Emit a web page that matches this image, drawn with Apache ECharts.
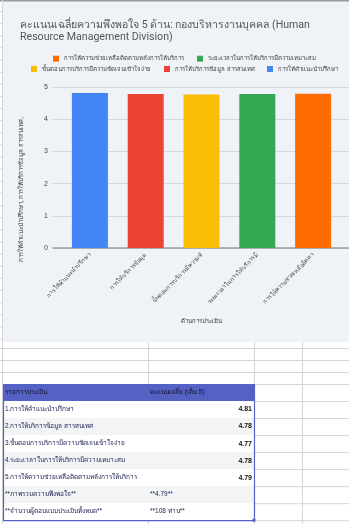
<!DOCTYPE html>
<html>
<head>
<meta charset="utf-8">
<script src="https://cdn.jsdelivr.net/npm/echarts@6/dist/echarts.min.js"></script>
<style>
  html, body { margin: 0; padding: 0; background: #ffffff; }
  #chart { width: 349px; height: 524px; }
</style>
</head>
<body>
<div id="chart"></div>
<script>
// ---- data ----
const categories = [
  'การให้คำแนะนำปรึกษา',
  'การให้บริการข้อมูล สารสนเทศ',
  'ขั้นตอนการบริการมีความชัดเจนเข้าใจง่าย',
  'ระยะเวลาในการให้บริการมีความเหมาะสม',
  'การให้ความช่วยเหลือติดตามหลังการให้บริการ'
];
const scores = [4.81, 4.78, 4.77, 4.78, 4.79];
const xTickLabels = [
  'การให้คำแนะนำปรึกษา',
  'การให้บริการข้อมูล',
  'ขั้นตอนการบริการมีความชั',
  'ระยะเวลาในการให้บริการมี',
  'การให้ความช่วยเหลือติดตา'
];
const yTicks = [0, 1, 2, 3, 4, 5];
const chartTitle = 'คะแนนเฉลี่ยความพึงพอใจ 5 ด้าน: กองบริหารงานบุคคล (Human\nResource Management Division)';
const xAxisTitle = 'ด้านการประเมิน';
const yAxisTitle = 'การให้คำแนะนำปรึกษา, การให้บริการข้อมูล สารสนเทศ,';
const tableHeader = ['รายการประเมิน', 'คะแนนเฉลี่ย (เต็ม 5)'];
const summaryRows = [
  ['**ภาพรวมความพึงพอใจ**', '**4.79**'],
  ['**จำนวนผู้ตอบแบบประเมินทั้งหมด**', '**108 ท่าน**']
];

// ---- styles ----
const palette = ['#4285f4', '#ea4335', '#fbbc04', '#34a853', '#ff6d01'];
const FONT = 'Arial, "Liberation Sans", Roboto, sans-serif';
const chartBg = '#eff2f7';
const sheetLine = '#d6d6d6';

const chart = echarts.init(document.getElementById('chart'), null, { renderer: 'canvas' });

// one series per category so every bar gets its own legend entry
const series = categories.map((name, i) => ({
  name: name,
  type: 'bar',
  stack: 'score',
  xAxisIndex: 0,
  yAxisIndex: 0,
  barWidth: 36,
  itemStyle: { color: palette[i] },
  data: categories.map((_, j) => (j === i ? scores[i] : '-'))
}));

// ---- spreadsheet beneath the chart ----
const g = [];
// chart panel background
g.push({ type: 'rect', z: -10, shape: { x: 3, y: 1, width: 346, height: 341 }, style: { fill: chartBg } });
// top border
g.push({ type: 'line', z: 5, shape: { x1: 0, y1: 0.5, x2: 349, y2: 0.5 }, style: { stroke: '#9a9a9a', lineWidth: 2 } });
// left column edge
g.push({ type: 'line', z: 5, shape: { x1: 2.5, y1: 0, x2: 2.5, y2: 524 }, style: { stroke: sheetLine, lineWidth: 1 } });
// row edges peeking in the gutter
for (let y = 11.5; y < 342; y += 12.13) {
  g.push({ type: 'line', z: 5, shape: { x1: 0, y1: y, x2: 3, y2: y }, style: { stroke: sheetLine, lineWidth: 1 } });
}
// empty rows between chart and table
[348.5, 360.5, 372.5].forEach(y => {
  g.push({ type: 'line', shape: { x1: 0, y1: y, x2: 349, y2: y }, style: { stroke: sheetLine, lineWidth: 1 } });
});
[148.5, 254.5, 302.5].forEach(x => {
  g.push({ type: 'line', shape: { x1: x, y1: 342, x2: x, y2: 384 }, style: { stroke: sheetLine, lineWidth: 1 } });
});
g.push({ type: 'line', shape: { x1: 302.5, y1: 384, x2: 302.5, y2: 524 }, style: { stroke: sheetLine, lineWidth: 1 } });
g.push({ type: 'line', shape: { x1: 148.5, y1: 520, x2: 148.5, y2: 524 }, style: { stroke: sheetLine, lineWidth: 1 } });
g.push({ type: 'line', shape: { x1: 254.5, y1: 520, x2: 254.5, y2: 524 }, style: { stroke: sheetLine, lineWidth: 1 } });

// table
const tX = 3, tW = 251, headY = 384, headH = 17, rowH = 17.03;
const bodyRows = categories.map((c, i) => [(i + 1) + '.' + c, scores[i].toFixed(2), 'num']);
summaryRows.forEach(r => bodyRows.push([r[0], r[1], 'col']));
const textCol = '#1c1f50';
const cellFont = '6.5px ' + FONT;

g.push({ type: 'rect', shape: { x: tX, y: headY, width: tW, height: headH }, style: { fill: '#5561c3' } });
g.push({ type: 'text', style: { x: 5, y: headY + headH / 2, text: tableHeader[0], fill: '#10122e', font: cellFont, verticalAlign: 'middle' } });
g.push({ type: 'text', style: { x: 150, y: headY + headH / 2, text: tableHeader[1], fill: '#10122e', font: cellFont, verticalAlign: 'middle' } });

bodyRows.forEach((r, i) => {
  const y = headY + headH + i * rowH;
  g.push({ type: 'rect', shape: { x: tX, y: y, width: tW, height: rowH }, style: { fill: i % 2 === 1 ? '#f3f4f6' : '#ffffff' } });
  g.push({ type: 'text', style: { x: 5, y: y + rowH / 2, text: r[0], fill: textCol, font: cellFont, verticalAlign: 'middle' } });
  if (r[2] === 'num') {
    g.push({ type: 'text', style: { x: 252, y: y + rowH / 2, text: r[1], fill: '#111', font: 'bold 7px ' + FONT, align: 'right', verticalAlign: 'middle' } });
  } else {
    g.push({ type: 'text', style: { x: 150, y: y + rowH / 2, text: r[1], fill: textCol, font: cellFont, verticalAlign: 'middle' } });
  }
  // row edge outside the table
  g.push({ type: 'line', shape: { x1: 254, y1: y + 0.5, x2: 349, y2: y + 0.5 }, style: { stroke: sheetLine, lineWidth: 1 } });
});
const tableBottom = headY + headH + bodyRows.length * rowH;
g.push({ type: 'line', shape: { x1: 254, y1: headY + 0.5, x2: 349, y2: headY + 0.5 }, style: { stroke: sheetLine, lineWidth: 1 } });
g.push({ type: 'line', shape: { x1: 254, y1: tableBottom + 0.5, x2: 349, y2: tableBottom + 0.5 }, style: { stroke: sheetLine, lineWidth: 1 } });
// table outline
g.push({ type: 'rect', z: 6, shape: { x: tX + 0.5, y: headY + 0.5, width: tW, height: tableBottom - headY }, style: { fill: 'none', stroke: '#5262c6', lineWidth: 1.2 } });
g.push({ type: 'rect', z: 7, shape: { x: tX + tW - 1.5, y: tableBottom - 1.5, width: 3, height: 3 }, style: { fill: '#5262c6' } });

// legend entries, placed one by one in two rows (last category first)
const legendSlots = [
  { idx: 4, left: 53, top: 55.7 },
  { idx: 3, left: 197, top: 55.7 },
  { idx: 2, left: 31, top: 66 },
  { idx: 1, left: 164, top: 66 },
  { idx: 0, left: 267, top: 66 }
];
const legends = legendSlots.map(s => ({
  data: [categories[s.idx]],
  left: s.left,
  top: s.top,
  padding: 0,
  itemWidth: 6,
  itemHeight: 6,
  itemGap: 0,
  icon: 'rect',
  textStyle: { fontSize: 6, color: '#3c3c3c', fontFamily: FONT }
}));

chart.setOption({
  backgroundColor: '#ffffff',
  animation: false,
  textStyle: { fontFamily: FONT },
  title: {
    text: chartTitle,
    left: 15,
    top: 14,
    textStyle: { fontSize: 10.6, fontWeight: 'normal', color: '#555555', lineHeight: 12, fontFamily: 'Roboto, Arial, sans-serif' }
  },
  legend: legends,
  grid: [
    { left: 62, right: 8, top: 87, bottom: 276, containLabel: false },
    { left: 53, right: 0, top: 87, bottom: 276, containLabel: false }
  ],
  xAxis: [
    {
      type: 'category',
      gridIndex: 0,
      data: xTickLabels,
      axisLine: { show: false },
      axisTick: { show: false },
      axisLabel: { rotate: 45, fontSize: 5.8, color: '#444444', margin: 6, interval: 0 },
      name: xAxisTitle,
      nameLocation: 'middle',
      nameGap: 70,
      nameTextStyle: { fontSize: 6, color: '#333333' }
    },
    {
      type: 'category',
      gridIndex: 1,
      data: xTickLabels,
      axisLine: { show: true, lineStyle: { color: '#9e9e9e', width: 1.5 } },
      axisTick: { show: false },
      axisLabel: { show: false }
    }
  ],
  yAxis: [
    {
      type: 'value',
      gridIndex: 0,
      min: yTicks[0], max: yTicks[yTicks.length - 1], interval: 1,
      axisLabel: { show: false },
      axisLine: { show: false },
      axisTick: { show: false },
      splitLine: { show: false }
    },
    {
      type: 'value',
      gridIndex: 1,
      min: yTicks[0], max: yTicks[yTicks.length - 1], interval: 1,
      axisLine: { show: false },
      axisTick: { show: false },
      axisLabel: { fontSize: 7, color: '#444444', margin: 5 },
      splitLine: { lineStyle: { color: '#d3d6dc', width: 1 } },
      name: yAxisTitle,
      nameLocation: 'middle',
      nameGap: 29,
      nameRotate: 90,
      nameTextStyle: { fontSize: 6.1, color: '#333333', padding: [0, 44, 0, 0] }
    }
  ],
  series: series,
  graphic: g
});
</script>
</body>
</html>
